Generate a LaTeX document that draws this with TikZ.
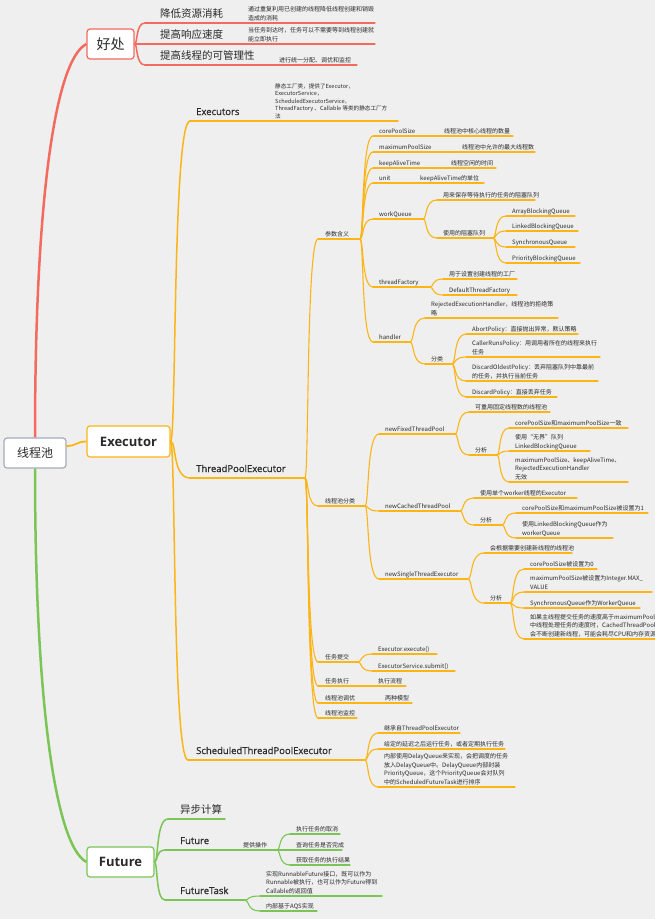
\documentclass[tikz,border=0pt]{standalone}
\usepackage{fontspec}
\setmainfont{Noto Sans CJK SC}
\newfontfamily\osans{Open Sans}
\newfontfamily\osmed[FakeBold=0.7]{Open Sans}
\usetikzlibrary{calc}
\definecolor{bg}{HTML}{EFEFEF}
\definecolor{redC}{HTML}{F26B5E}
\definecolor{orgC}{HTML}{FDB515}
\definecolor{grnC}{HTML}{7AC555}
\definecolor{txtC}{HTML}{2A2A2A}
\definecolor{rootC}{HTML}{A3ABBD}
\def\brc{redC}
\tikzset{
 ul/.style={draw=\brc, line width=1.1pt, line cap=round},
 ulA/.style={line width=1.5pt},
 txt/.style={anchor=south west, inner sep=0pt, text=txtC, font=\fontsize{6}{8.5}\selectfont, align=left, yshift=1.5pt, text depth=1.2pt},
 lvA/.style={font=\fontsize{10.5}{12}\selectfont, yshift=2.2pt, text depth=2pt},
 lvL/.style={font=\osmed\fontsize{9.5}{11}\selectfont, yshift=1.8pt, text depth=2.5pt},
 box/.style={draw=\brc, fill=white, rounded corners=3pt, line width=1.2pt, text=txtC, inner sep=0pt},
}
\newcommand\topic[8][]{%
  \coordinate (#2-s) at (#3,#4);
  \coordinate (#2-e) at (#5,#4);
  \draw[ul,#1] (#2-s) -- (#2-e);
  \node[txt,#7] (#2) at (#6,#4) {#8};}
\newcommand\conn[3][]{%
  \draw[ul,#1] let \p1=(#2-e),\p2=(#3-s) in
    (\p1) .. controls ({\x1+0.3*(\x2-\x1)},\y1) and ({\x1+0.1*(\x2-\x1)},\y2) .. (\p2);}
\begin{document}
\begin{tikzpicture}[x=1pt,y=-1pt]
\fill[bg] (0,0) rectangle (655,919);
\useasboundingbox (0,0) rectangle (655,919);
\clip (0,0) rectangle (655,919);
% boxes
\def\brc{rootC}
\node[box, minimum width=62pt, minimum height=30pt, font=\fontsize{12}{14}\selectfont] (root) at (35,453) {线程池};
\def\brc{redC}
\node[box, minimum width=47pt, minimum height=30pt, font=\fontsize{14}{16}\selectfont] (hc) at (110.5,44) {好处};
\def\brc{orgC}
\node[box, minimum width=83pt, minimum height=31pt, font=\osans\bfseries\fontsize{13}{15}\selectfont] (ex) at (128.5,441.5) {Executor};
\def\brc{grnC}
\node[box, minimum width=67pt, minimum height=30pt, font=\osans\bfseries\fontsize{13}{15}\selectfont] (fut) at (120.5,862) {Future};
\coordinate (hc-e) at (hc.east);
\coordinate (ex-e) at (ex.east);
\coordinate (fut-e) at (fut.east);
% root connectors
\draw[draw=redC, line width=2.5pt] (root.north) .. controls (35,200) and (55,60) .. (hc.west);
\draw[draw=orgC, line width=1.8pt] (66,446) .. controls (77,446) and (76,441.5) .. (ex.west);
\draw[draw=grnC, line width=2.5pt] (root.south) .. controls (35,700) and (55,845) .. (fut.west);
% ===== red branch
\def\brc{redC}
\topic{r1}{145}{23}{240}{160}{lvA}{降低资源消耗}
\topic{r1d}{244}{23}{375}{248}{}{通过重复利用已创建的线程降低线程创建和销毁\\造成的消耗}
\topic{r2}{145}{44}{240}{160}{lvA}{提高响应速度}
\topic{r2d}{244}{44}{375}{248}{}{当任务到达时，任务可以不需要等到线程创建就\\能立即执行}
\topic{r3}{145}{65}{270}{160}{lvA}{提高线程的可管理性}
\topic{r3d}{274}{65}{357}{279}{}{进行统一分配、调优和监控}
\conn[ulA]{hc}{r1}\conn[ulA]{hc}{r2}\conn[ulA]{hc}{r3}
\conn{r1}{r1d}\conn{r2}{r2d}\conn{r3}{r3d}
% ===== orange branch
\def\brc{orgC}
\topic[ulA]{e1}{190}{121}{262}{196}{lvL}{Executors}
\topic{e1d}{266}{121}{398}{275}{font=\fontsize{5.6}{7.5}\selectfont}{静态工厂类，提供了Executor，\\ExecutorService，\\ScheduledExecutorService，\\ThreadFactory 、Callable 等类的静态工厂方\\法}
\topic[ulA]{e2}{190}{478}{305}{196}{lvL}{ThreadPoolExecutor}
\topic[ulA]{e3}{188}{760}{365}{196}{lvL}{ScheduledThreadPoolExecutor}
\conn[ulA]{ex}{e1}\conn[ulA]{ex}{e2}\conn[ulA]{ex}{e3}\conn{e1}{e1d}
% ThreadPoolExecutor level
\topic{tp1}{318}{239}{360}{325}{}{参数含义}
\topic{tp2}{318}{506}{365}{325}{}{线程池分类}
\topic{tp3}{318}{662}{358}{325}{}{任务提交}
\topic{tp4}{318}{686}{364}{325}{}{任务执行}
\topic{tp4d}{368}{686}{406}{378}{}{执行流程}
\topic{tp5}{318}{703}{366}{325}{}{线程池调优}
\topic{tp5d}{370}{703}{412}{385}{}{两种模型}
\topic{tp6}{318}{718}{357}{325}{}{线程池监控}
\foreach \c in {tp1,tp2,tp3,tp4,tp5,tp6} {\conn{e2}{\c}}
\conn{tp4}{tp4d}\conn{tp5}{tp5d}
% parameters
\topic{c1}{373}{136}{428}{379}{}{corePoolSize}
\topic{c1d}{432}{136}{513}{444}{}{线程池中核心线程的数量}
\topic{c2}{373}{152}{444}{379}{}{maximumPoolSize}
\topic{c2d}{448}{152}{535}{462}{}{线程池中允许的最大线程数}
\topic{c3}{373}{168}{434}{379}{}{keepAliveTime}
\topic{c3d}{438}{168}{496}{451}{}{线程空闲的时间}
\topic{c4}{373}{183}{404}{379}{}{unit}
\topic{c4d}{408}{183}{484}{420}{}{keepAliveTime的单位}
\topic{c5}{373}{219}{423}{379}{}{workQueue}
\topic{c5a}{437}{200}{535}{443}{}{用来保存等待执行的任务的阻塞队列}
\topic{c5b}{437}{238}{493}{443}{}{使用的阻塞队列}
\topic{q1}{506}{216}{575}{512}{}{ArrayBlockingQueue}
\topic{q2}{506}{231}{578}{512}{}{LinkedBlockingQueue}
\topic{q3}{506}{247}{575}{512}{}{SynchronousQueue}
\topic{q4}{506}{263}{580}{512}{}{PriorityBlockingQueue}
\topic{c6}{373}{287}{430}{379}{}{threadFactory}
\topic{f1}{443}{279}{517}{449}{}{用于设置创建线程的工厂}
\topic{f2}{443}{295}{517}{449}{}{DefaultThreadFactory}
\topic{c7}{373}{342}{410}{379}{}{handler}
\topic{h1}{425}{318}{558}{431}{}{RejectedExecutionHandler，线程池的拒绝策\\略}
\topic{h2}{425}{364}{452}{431}{}{分类}
\topic{g1}{466}{334}{578}{472}{}{AbortPolicy：直接抛出异常，默认策略}
\topic{g2}{466}{357}{600}{472}{}{CallerRunsPolicy：用调用者所在的线程来执行\\任务}
\topic{g3}{466}{381}{598}{472}{}{DiscardOldestPolicy：丢弃阻塞队列中靠最前\\的任务，并执行当前任务}
\topic{g4}{466}{397}{557}{472}{}{DiscardPolicy：直接丢弃任务}
\foreach \c in {c1,c2,c3,c4,c5,c6,c7} {\conn{tp1}{\c}}
\conn{c1}{c1d}\conn{c2}{c2d}\conn{c3}{c3d}\conn{c4}{c4d}
\conn{c5}{c5a}\conn{c5}{c5b}
\foreach \c in {q1,q2,q3,q4} {\conn{c5b}{\c}}
\conn{c6}{f1}\conn{c6}{f2}
\conn{c7}{h1}\conn{c7}{h2}
\foreach \c in {g1,g2,g3,g4} {\conn{h2}{\c}}
% pool kinds
\topic{n1}{379}{434}{455}{385}{}{newFixedThreadPool}
\topic{n1a}{469}{412}{550}{475}{}{可重用固定线程数的线程池}
\topic{n1b}{469}{455}{497}{475}{}{分析}
\topic{a1}{509}{428}{628}{515}{}{corePoolSize和maximumPoolSize一致}
\topic{a2}{509}{451}{590}{515}{}{使用“无界”队列\\LinkedBlockingQueue}
\topic{a3}{509}{482}{628}{515}{}{maximumPoolSize、keepAliveTime、\\RejectedExecutionHandler\\无效}
\topic{n2}{379}{511}{460}{385}{}{newCachedThreadPool}
\topic{n2a}{474}{498}{577}{480}{}{使用单个worker线程的Executor}
\topic{n2b}{474}{525}{502}{480}{}{分析}
\topic{b1}{516}{513}{648}{522}{}{corePoolSize和maximumPoolSize被设置为1}
\topic{b2}{516}{538}{613}{522}{}{使用LinkedBlockingQueue作为\\workerQueue}
\topic{n3}{379}{579}{468}{385}{}{newSingleThreadExecutor}
\topic{n3a}{484}{553}{572}{490}{}{会根据需要创建新线程的线程池}
\topic{n3b}{484}{603}{510}{490}{}{分析}
\topic{d1}{524}{569}{597}{530}{}{corePoolSize被设置为0}
\topic{d2}{524}{592}{652}{530}{}{maximumPoolSize被设置为Integer.MAX\_\\VALUE}
\topic{d3}{524}{608}{640}{530}{}{SynchronousQueue作为WorkerQueue}
\topic{d4}{524}{639}{660}{530}{}{如果主线程提交任务的速度高于maximumPool\\中线程处理任务的速度时，CachedThreadPool\\会不断创建新线程，可能会耗尽CPU和内存资源}
\foreach \c in {n1,n2,n3} {\conn{tp2}{\c}}
\conn{n1}{n1a}\conn{n1}{n1b}
\foreach \c in {a1,a2,a3} {\conn{n1b}{\c}}
\conn{n2}{n2a}\conn{n2}{n2b}
\foreach \c in {b1,b2} {\conn{n2b}{\c}}
\conn{n3}{n3a}\conn{n3}{n3b}
\foreach \c in {d1,d2,d3,d4} {\conn{n3b}{\c}}
% submit
\topic{s1}{372}{654}{437}{378}{}{Executor.execute()}
\topic{s2}{372}{671}{455}{378}{}{ExecutorService.submit()}
\conn{tp3}{s1}\conn{tp3}{s2}
% scheduled
\topic{sc1}{378}{733}{460}{384}{}{继承自ThreadPoolExecutor}
\topic{sc2}{378}{749}{505}{384}{}{给定的延迟之后运行任务，或者定期执行任务}
\topic{sc3}{378}{787}{515}{384}{}{内部使用DelayQueue来实现，会把调度的任务\\放入DelayQueue中。DelayQueue内部封装\\PriorityQueue，这个PriorityQueue会对队列\\中的ScheduledFutureTask进行排序}
\foreach \c in {sc1,sc2,sc3} {\conn{e3}{\c}}
% ===== green branch
\def\brc{grnC}
\topic[ulA]{fu1}{168}{819}{225}{180}{lvA}{异步计算}
\topic[ulA]{fu2}{165}{850}{238}{180}{lvL}{Future}
\topic{fu2d}{238}{850}{277}{243}{}{提供操作}
\topic{o1}{290}{834}{340}{296}{}{执行任务的取消}
\topic{o2}{290}{850}{342}{296}{}{查询任务是否完成}
\topic{o3}{290}{865}{350}{296}{}{获取任务的执行结果}
\topic[ulA]{fu3}{165}{900}{245}{180}{lvL}{FutureTask}
\topic{ft1}{260}{896}{382}{266}{}{实现RunnableFuture接口，既可以作为\\Runnable被执行，也可以作为Future得到\\Callable的返回值}
\topic{ft2}{260}{911}{317}{266}{}{内部基于AQS实现}
\conn[ulA]{fut}{fu1}\conn[ulA]{fut}{fu2}\conn[ulA]{fut}{fu3}
\conn{fu2}{fu2d}
\foreach \c in {o1,o2,o3} {\conn{fu2d}{\c}}
\conn{fu3}{ft1}\conn{fu3}{ft2}
\end{tikzpicture}
\end{document}
